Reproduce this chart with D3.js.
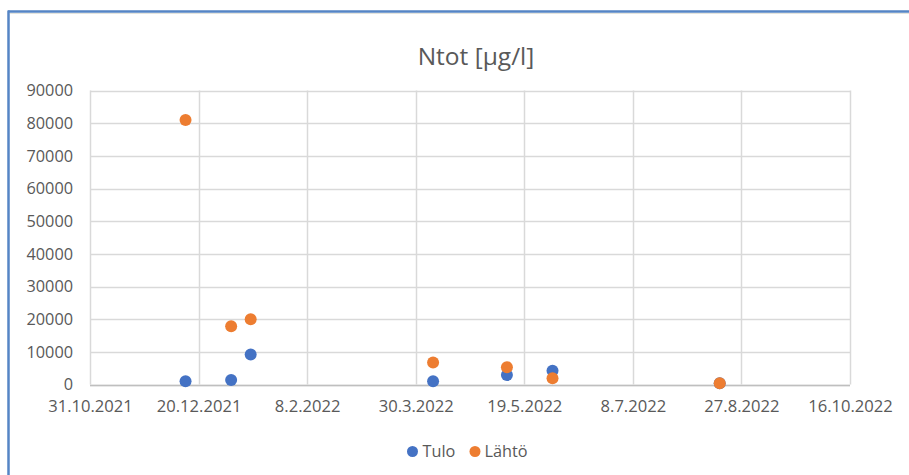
<!DOCTYPE html>
<html>
<head>
<meta charset="utf-8">
<script src="https://cdn.jsdelivr.net/npm/d3@7"></script>
<style>
  html, body { margin: 0; padding: 0; background: #fff; }
  svg { display: block; }
  text { font-family: "Open Sans", "Noto Sans", sans-serif; fill: #595959; }
</style>
</head>
<body>
<svg id="chart" width="909" height="475"></svg>
<script>
const title = "Ntot [µg/l]";
const dates = ["14.12.2021", "4.1.2022", "13.1.2022", "7.4.2022", "11.5.2022", "1.6.2022", "17.8.2022"];
const tulo  = [1000, 1400, 9200, 1000, 2900, 4200, 400];
const lahto = [81000, 17800, 20000, 6700, 5300, 1900, 400];
const seriesNames = ["Tulo", "Lähtö"];
const xTickLabels = ["31.10.2021", "20.12.2021", "8.2.2022", "30.3.2022", "19.5.2022", "8.7.2022", "27.8.2022", "16.10.2022"];
const yTicks = [0, 10000, 20000, 30000, 40000, 50000, 60000, 70000, 80000, 90000];
const colors = ["#4472C4", "#ED7D31"];

const parse = d3.utcParse("%d.%m.%Y");
const svg = d3.select("#chart");

// chart frame (blue border)
svg.append("line").attr("x1", 8).attr("x2", 909).attr("y1", 11.5).attr("y2", 11.5)
  .attr("stroke", "#5585c5").attr("stroke-width", 2.5);
svg.append("line").attr("x1", 8.5).attr("x2", 8.5).attr("y1", 10.5).attr("y2", 475)
  .attr("stroke", "#5585c5").attr("stroke-width", 2.5);
svg.append("line").attr("x1", 10).attr("x2", 909).attr("y1", 13.5).attr("y2", 13.5)
  .attr("stroke", "#e4e4dc").attr("stroke-width", 1);

const plot = {left: 90, right: 850, top: 90.5, bottom: 384.5};

const xTicks = xTickLabels.map(parse);
const x = d3.scaleUtc().domain([xTicks[0], xTicks[xTicks.length - 1]]).range([plot.left, plot.right]);
const y = d3.scaleLinear().domain([0, 90000]).range([plot.bottom, plot.top]);

// gridlines
const g = svg.append("g");
g.selectAll(".hg").data(yTicks).join("line")
  .attr("x1", plot.left).attr("x2", plot.right)
  .attr("y1", d => Math.round(y(d)) + 0.5).attr("y2", d => Math.round(y(d)) + 0.5)
  .attr("stroke", "#d9d9d9").attr("stroke-width", 1.5);
g.selectAll(".vg").data(xTicks).join("line")
  .attr("x1", d => Math.round(x(d)) + 0.5).attr("x2", d => Math.round(x(d)) + 0.5)
  .attr("y1", plot.top).attr("y2", plot.bottom)
  .attr("stroke", "#d9d9d9").attr("stroke-width", 1.5);
// bottom axis line
g.append("line").attr("x1", plot.left).attr("x2", plot.right)
  .attr("y1", Math.round(y(0)) + 0.5).attr("y2", Math.round(y(0)) + 0.5)
  .attr("stroke", "#bfbfbf").attr("stroke-width", 1.5);

// y axis labels
const yAxis = d3.axisLeft(y).tickValues(yTicks).tickSize(0).tickPadding(17).tickFormat(d3.format("d"));
svg.append("g").attr("transform", `translate(${plot.left},0)`).call(yAxis)
  .call(s => s.select(".domain").remove())
  .selectAll("text").style("font-size", "16.3px").attr("fill", "#595959")
  .style("font-family", '"Open Sans", sans-serif');

// x axis labels
const xAxis = d3.axisBottom(x).tickValues(xTicks).tickSize(0).tickPadding(16)
  .tickFormat((d, i) => xTickLabels[i]);
svg.append("g").attr("transform", `translate(0,${plot.bottom})`).call(xAxis)
  .call(s => s.select(".domain").remove())
  .selectAll("text").style("font-size", "16.6px").attr("fill", "#595959")
  .style("font-family", '"Open Sans", sans-serif');

// points
const series = [tulo, lahto];
series.forEach((vals, si) => {
  svg.append("g").selectAll("circle").data(vals).join("circle")
    .attr("cx", (d, i) => x(parse(dates[i])))
    .attr("cy", d => y(d))
    .attr("r", 6)
    .attr("fill", colors[si]);
});

// title
svg.append("text").attr("x", 476).attr("y", 64.5).attr("text-anchor", "middle")
  .style("font-size", "24.5px").text(title);

// legend
const legend = [{x: 412.5, tx: 422.5}, {x: 475, tx: 484.5}];
seriesNames.forEach((name, i) => {
  svg.append("circle").attr("cx", legend[i].x).attr("cy", 451.5).attr("r", 5.5).attr("fill", colors[i]);
  svg.append("text").attr("x", legend[i].tx).attr("y", 457).style("font-size", "16.3px").text(name);
});
</script>
</body>
</html>
